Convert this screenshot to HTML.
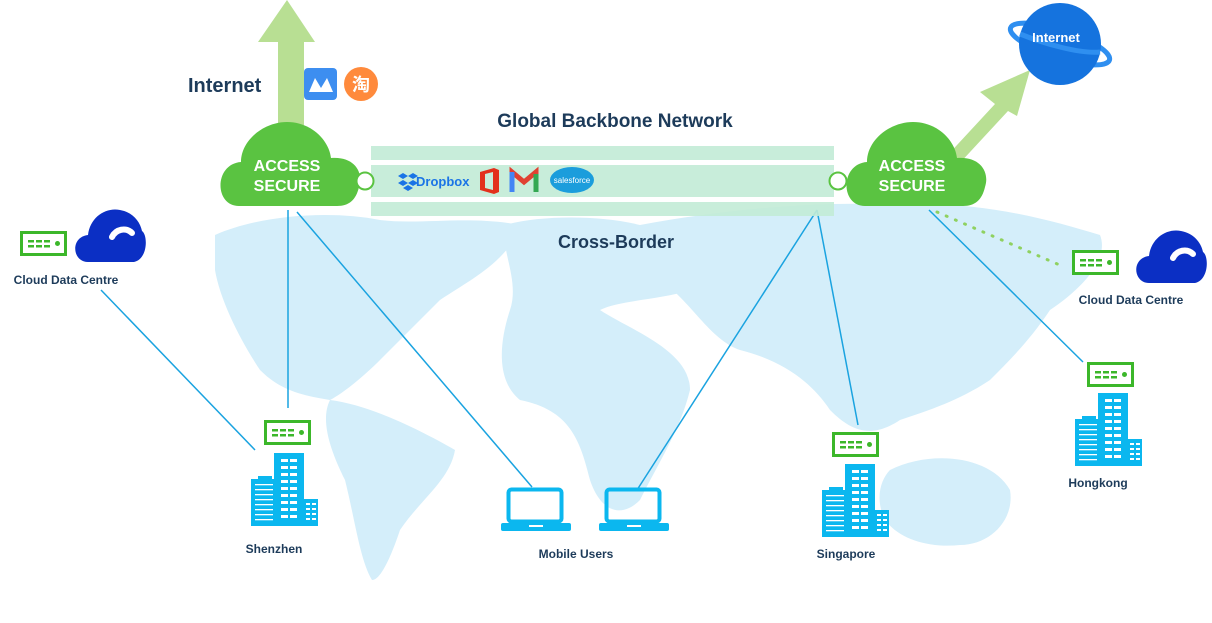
<!DOCTYPE html>
<html><head><meta charset="utf-8"><style>
body{margin:0;background:#fff;width:1212px;height:618px;overflow:hidden;font-family:"Liberation Sans","Noto Sans CJK SC",sans-serif}
</style></head><body>
<svg width="1212" height="618" viewBox="0 0 1212 618" xmlns="http://www.w3.org/2000/svg">
<defs>
<g id="srv"><rect x="1.5" y="1.5" width="44" height="22" fill="#fff" stroke="#3cb72a" stroke-width="3"/><rect x="8" y="9" width="6" height="2.5" fill="#3cb72a"/><rect x="16" y="9" width="6" height="2.5" fill="#3cb72a"/><rect x="24" y="9" width="6" height="2.5" fill="#3cb72a"/><rect x="8" y="14" width="6" height="2.5" fill="#3cb72a"/><rect x="16" y="14" width="6" height="2.5" fill="#3cb72a"/><rect x="24" y="14" width="6" height="2.5" fill="#3cb72a"/><circle cx="37.5" cy="12.5" r="2.5" fill="#3cb72a"/></g>
<g id="bld"><rect x="0" y="26" width="26" height="47" fill="#0bb7ef"/><rect x="7" y="23" width="14" height="4" fill="#0bb7ef"/><rect x="23" y="0" width="30" height="73" fill="#0bb7ef"/><rect x="52" y="46" width="15" height="27" fill="#0bb7ef"/>
<g fill="#fff"><rect x="4" y="31" width="18" height="1.3"/><rect x="4" y="36" width="18" height="1.3"/><rect x="4" y="41" width="18" height="1.3"/><rect x="4" y="46" width="18" height="1.3"/><rect x="4" y="51" width="18" height="1.3"/><rect x="4" y="56" width="18" height="1.3"/><rect x="4" y="61" width="18" height="1.3"/><rect x="4" y="66" width="18" height="1.3"/>
<rect x="30" y="6" width="7" height="3"/><rect x="39" y="6" width="7" height="3"/><rect x="30" y="13" width="7" height="3"/><rect x="39" y="13" width="7" height="3"/><rect x="30" y="20" width="7" height="3"/><rect x="39" y="20" width="7" height="3"/><rect x="30" y="27" width="7" height="3"/><rect x="39" y="27" width="7" height="3"/><rect x="30" y="34" width="7" height="3"/><rect x="39" y="34" width="7" height="3"/><rect x="30" y="41" width="7" height="3"/><rect x="39" y="41" width="7" height="3"/><rect x="30" y="48" width="7" height="3"/><rect x="39" y="48" width="7" height="3"/><rect x="30" y="55" width="7" height="3"/><rect x="39" y="55" width="7" height="3"/><rect x="30" y="62" width="7" height="3"/><rect x="39" y="62" width="7" height="3"/>
<rect x="55" y="50" width="4" height="2"/><rect x="61" y="50" width="4" height="2"/><rect x="55" y="55" width="4" height="2"/><rect x="61" y="55" width="4" height="2"/><rect x="55" y="60" width="4" height="2"/><rect x="61" y="60" width="4" height="2"/><rect x="55" y="65" width="4" height="2"/><rect x="61" y="65" width="4" height="2"/></g></g>
<g id="lap"><rect x="7.5" y="1.5" width="53" height="32" rx="3" fill="none" stroke="#0bb7ef" stroke-width="4"/><rect x="0" y="35" width="70" height="8" rx="2" fill="#0bb7ef"/><rect x="28" y="37" width="14" height="2" fill="#fff"/></g>
<g id="gcloud"><path d="M20 84 C-5 84 -5 42 22 40 C22 18 45 0 68 0 C92 0 110 18 112 36 C135 34 145 50 140 65 C137 78 130 84 118 84 Z" fill="#5ac341"/></g>
<g id="bcloud"><path d="M14 55 C-2 55 -4 30 14 28 C16 10 32 0 46 3 C58 5 66 14 68 24 C74 28 74 52 60 55 Z" fill="#0b2fc4"/><path d="M38 30 C42 22 52 20 58 26" stroke="#fff" stroke-width="6" fill="none" stroke-linecap="round"/></g>
</defs>
<g fill="#d4eefa">
<path d="M215 235 C260 215 330 210 380 220 C420 225 470 215 520 225 C510 260 470 280 440 300 C420 320 400 340 380 360 C360 380 340 395 330 400 C300 395 280 390 260 370 C240 340 220 300 215 270 Z"/>
<path d="M330 400 C370 405 420 430 455 450 C450 480 420 500 400 530 C390 560 380 580 372 580 C360 560 355 520 345 480 C330 450 320 420 330 400 Z"/>
<path d="M505 225 C540 215 600 215 640 225 C680 240 700 270 690 290 C660 300 620 300 600 310 C630 330 690 350 690 390 C680 430 660 460 640 500 C620 520 600 510 590 480 C580 440 570 410 520 400 C495 380 500 340 510 310 C520 280 500 250 505 225 Z"/>
<path d="M640 225 C720 210 820 200 900 205 C980 200 1050 220 1100 235 C1110 260 1080 290 1050 310 C1030 340 1010 360 990 380 C960 400 930 410 900 420 C870 440 850 430 830 410 C810 380 780 360 740 350 C710 340 690 300 660 280 C640 260 630 240 640 225 Z"/>
<path d="M890 470 C930 450 990 455 1010 490 C1015 520 990 545 960 545 C930 548 900 540 885 520 C875 500 880 480 890 470 Z"/>
</g>
<g stroke="#1aa3e0" stroke-width="1.5">
<line x1="101" y1="290" x2="255" y2="450"/><line x1="288" y1="210" x2="288" y2="408"/><line x1="297" y1="212" x2="532" y2="487"/><line x1="817" y1="210" x2="637" y2="490"/><line x1="817" y1="210" x2="858" y2="425"/><line x1="929" y1="210" x2="1083" y2="362"/>
</g>
<line x1="937" y1="212" x2="1062" y2="266" stroke="#8fd160" stroke-width="3" stroke-dasharray="1 9" stroke-linecap="round"/>
<rect x="371" y="146" width="463" height="70" fill="#c2ebd6" opacity="0.9"/>
<rect x="371" y="160" width="463" height="5" fill="#fff"/><rect x="371" y="197" width="463" height="5" fill="#fff"/>
<path d="M278 125 V42 H258 L287 0 L315 42 H304 V125 Z" fill="#b8df93"/>
<path d="M945 158 L995 104 L980 92 L1030 70 L1017 116 L1008 111 L958 165 Z" fill="#b8df93"/>
<use href="#gcloud" x="219" y="122"/><use href="#gcloud" x="845" y="122"/>
<circle cx="365" cy="181" r="8.5" fill="#fff" stroke="#5ac341" stroke-width="2"/>
<circle cx="838" cy="181" r="8.5" fill="#fff" stroke="#5ac341" stroke-width="2"/>
<g fill="#fff" font-size="16" font-weight="bold" text-anchor="middle"><text x="287" y="171">ACCESS</text><text x="287" y="191">SECURE</text><text x="912" y="171">ACCESS</text><text x="912" y="191">SECURE</text></g>
<ellipse cx="1060" cy="44" rx="52" ry="14" transform="rotate(18 1060 44)" fill="none" stroke="#2f8ff0" stroke-width="5"/>
<circle cx="1060" cy="44" r="41" fill="#1573de"/>
<path d="M1020 34 C1045 44 1080 54 1100 52" stroke="#2f8ff0" stroke-width="5" fill="none"/>
<text x="1056" y="42" fill="#fff" font-size="13" font-weight="bold" text-anchor="middle">Internet</text>
<rect x="304" y="68" width="33" height="32" rx="4" fill="#3d8ef0"/>
<path d="M309 92 L315 78 L321 88 L327 78 L333 92 Z" fill="#fff"/>
<circle cx="361" cy="84" r="17" fill="#ff8a3c"/>
<text x="361" y="91" fill="#fff" font-size="18" font-weight="bold" text-anchor="middle" font-family="Noto Sans CJK SC,sans-serif">淘</text>
<g fill="#1d3b5a" font-weight="bold">
<text x="188" y="92" font-size="20">Internet</text>
<text x="615" y="127" font-size="19" text-anchor="middle">Global Backbone Network</text>
<text x="616" y="248" font-size="18" text-anchor="middle">Cross-Border</text>
<text x="66" y="284" font-size="12" text-anchor="middle">Cloud Data Centre</text>
<text x="1131" y="304" font-size="12" text-anchor="middle">Cloud Data Centre</text>
<text x="274" y="553" font-size="12" text-anchor="middle">Shenzhen</text>
<text x="576" y="558" font-size="12" text-anchor="middle">Mobile Users</text>
<text x="846" y="558" font-size="12" text-anchor="middle">Singapore</text>
<text x="1098" y="487" font-size="12" text-anchor="middle">Hongkong</text>
</g>
<path d="M398 176 l5 -3 5 3 -5 3z M408 176 l5 -3 5 3 -5 3z M398 183 l5 -3 5 3 -5 3z M408 183 l5 -3 5 3 -5 3z M403 188 l5 -3 5 3 -5 3z" fill="#1a74e6"/>
<text x="416" y="186" fill="#1a74e6" font-size="13" font-weight="bold">Dropbox</text>
<path d="M480 172 L494 168 L499 170 V192 L494 194 L480 190 Z M485 174 V188 L493 190 V172 Z" fill="#e3301c"/>
<path d="M512 192 V172 L524 182 L536 172 V192" fill="none" stroke="#e04132" stroke-width="5"/>
<path d="M512 192 V172" stroke="#4285f4" stroke-width="5"/><path d="M536 192 V174" stroke="#34a853" stroke-width="5"/>
<ellipse cx="572" cy="180" rx="22" ry="13" fill="#1b9ddc"/>
<text x="572" y="183" fill="#fff" font-size="8" text-anchor="middle">salesforce</text>
<use href="#srv" x="20" y="231"/><use href="#bcloud" x="74" y="207"/>
<use href="#srv" x="1072" y="250"/><use href="#bcloud" x="1135" y="228"/>
<use href="#srv" x="264" y="420"/><use href="#bld" x="251" y="453"/>
<use href="#lap" x="501" y="488"/><use href="#lap" x="599" y="488"/>
<use href="#srv" x="832" y="432"/><use href="#bld" x="822" y="464"/>
<use href="#srv" x="1087" y="362"/><use href="#bld" x="1075" y="393"/>
</svg>
</body></html>
